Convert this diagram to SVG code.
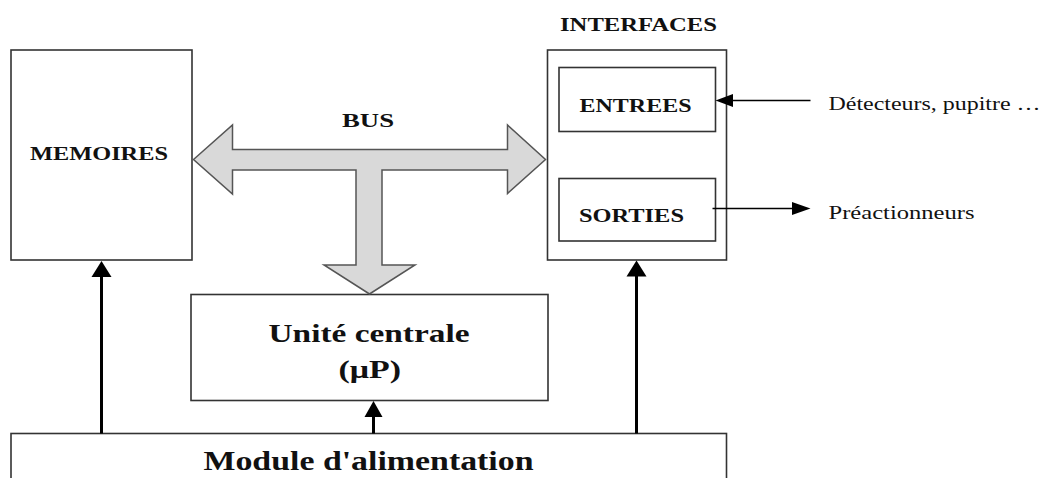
<svg xmlns="http://www.w3.org/2000/svg" width="1043" height="478" viewBox="0 0 1043 478">
<defs>
<style>
.box{fill:#fff;stroke:#333;stroke-width:1.6}
.t{font-family:"Liberation Serif","Times New Roman",serif;fill:#111}
.b{font-weight:bold}
.pw{stroke:#000;stroke-width:3;fill:none}
.th{stroke:#000;stroke-width:1.5;fill:none}
.hd{fill:#000;stroke:none}
.bus{fill:#d9d9d9;stroke:#555;stroke-width:1.5;stroke-linejoin:miter}
</style>
</defs>
<rect width="1043" height="478" fill="#fff"/>
<g id="memoires">
<rect class="box" x="11" y="50" width="181" height="210"/>
<text class="t b" x="30" y="160" font-size="19" textLength="138" lengthAdjust="spacingAndGlyphs">MEMOIRES</text>
</g>
<g id="interfaces">
<text class="t b" x="560" y="31" font-size="19" textLength="157" lengthAdjust="spacingAndGlyphs">INTERFACES</text>
<rect class="box" x="547.5" y="50" width="179" height="210"/>
</g>
<g id="entrees">
<rect class="box" x="559" y="67.5" width="156.5" height="64"/>
<text class="t b" x="579.5" y="111.5" font-size="19" textLength="112" lengthAdjust="spacingAndGlyphs">ENTREES</text>
</g>
<g id="sorties">
<rect class="box" x="559" y="178.5" width="156.5" height="62.5"/>
<text class="t b" x="579" y="221.5" font-size="19" textLength="105" lengthAdjust="spacingAndGlyphs">SORTIES</text>
</g>
<g id="unite-centrale">
<rect class="box" x="191" y="294.5" width="357" height="106"/>
<text class="t b" x="268.5" y="341.5" font-size="26" textLength="201" lengthAdjust="spacingAndGlyphs">Unité centrale</text>
<text class="t b" x="338.5" y="378" font-size="26" textLength="62.5" lengthAdjust="spacingAndGlyphs">(μP)</text>
</g>
<g id="module-alimentation">
<rect class="box" x="11" y="433.5" width="715.5" height="60"/>
<text class="t b" x="203.5" y="470" font-size="27" textLength="330" lengthAdjust="spacingAndGlyphs">Module d'alimentation</text>
</g>
<g id="bus">
<polygon class="bus" points="193.5,159.5 232.5,125 232.5,149.5 507.5,149.5 507.5,125 545.5,159.5 507.5,193.5 507.5,170 382,170 382,265 415,265 369.5,294 324,265 356,265 356,170 232.5,170 232.5,194"/>
<text class="t b" x="342" y="127" font-size="19" textLength="52" lengthAdjust="spacingAndGlyphs">BUS</text>
</g>
<g id="detecteurs">
<text class="t" x="828.5" y="109.5" font-size="19" textLength="212" lengthAdjust="spacingAndGlyphs">Détecteurs, pupitre …</text>
</g>
<g id="preactionneurs">
<text class="t" x="828.5" y="218.5" font-size="19" textLength="146" lengthAdjust="spacingAndGlyphs">Préactionneurs</text>
</g>
<g id="connectors">
<line class="pw" x1="101.5" y1="433.5" x2="101.5" y2="275"/>
<polygon class="hd" points="101.5,261 91.5,277 111.5,277"/>
<line class="pw" x1="636.5" y1="433.5" x2="636.5" y2="275"/>
<polygon class="hd" points="636.5,260.5 626.5,276.5 646.5,276.5"/>
<line class="pw" x1="373.5" y1="433.5" x2="373.5" y2="415"/>
<polygon class="hd" points="373.5,401 364.5,417 382.5,417"/>
<line class="th" x1="810.5" y1="100.5" x2="732" y2="100.5"/>
<polygon class="hd" points="715.5,100.5 733,94 733,107"/>
<line class="th" x1="712.5" y1="208.5" x2="793" y2="208.5"/>
<polygon class="hd" points="810.5,208.5 792,202 792,215"/>
</g>
</svg>
